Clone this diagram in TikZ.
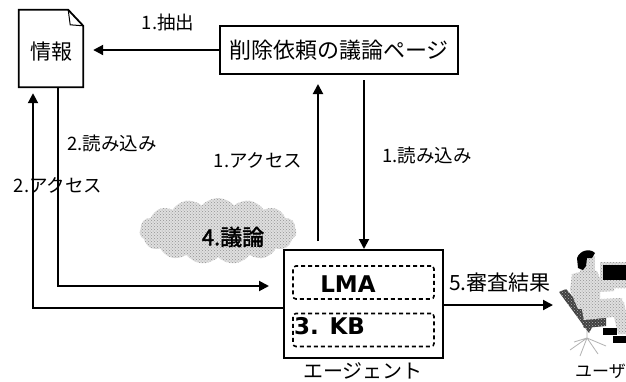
\documentclass[tikz,border=0pt]{standalone}
\usepackage{fontspec}
\newfontfamily\jp{Noto Sans CJK JP}
\newfontfamily\jpb{Noto Sans CJK JP}[FakeBold=2]
\newfontfamily\lat{DejaVu Sans}
\usetikzlibrary{arrows.meta,shapes.symbols,patterns,calc}

\tikzset{
  wire/.style={line width=2pt},
  flow/.style={wire,-{Triangle[length=10pt,width=10pt]}},
  lbl/.style={font=\jp\fontsize{18.5}{18.5}\selectfont,inner sep=0pt},
  big/.style={font=\jp\fontsize{20}{20}\selectfont,inner sep=0pt},
  inbox/.style={draw,dashed,dash pattern=on 4pt off 3pt,line width=1.6pt,
    rounded corners=3pt,minimum width=141pt,minimum height=33pt},
  bold/.style={font=\lat\bfseries\fontsize{23}{23}\selectfont,inner sep=0pt},
  grain/.style={fill=gray!25,postaction={pattern=crosshatch dots,pattern color=gray!85}},
  darkgrain/.style={fill=black!75,postaction={pattern=crosshatch dots,pattern color=gray!60}},
}

\begin{document}
\begin{tikzpicture}[x=1pt,y=-1pt]
\useasboundingbox[fill=white] (0,0) rectangle (626,381);

% discussion cloud
\node[cloud,cloud puffs=15,cloud puff arc=100,aspect=2.3,minimum width=157pt,minimum height=66pt,
      grain,draw=none] (cloud) at (218,231) {};
\node[font=\jpb\fontsize{22}{22}\selectfont,inner sep=0pt] (discuss) at (233,237) {4.議論};

% information document
\node[minimum width=64pt,minimum height=77pt,inner sep=0pt] (info) at (51,48.5) {};
\draw[line width=1.8pt] (info.north west) -- ($(info.north east)+(-15,0)$)
  -- ($(info.north east)+(0,16)$) -- (info.south east) -- (info.south west) -- cycle;
\draw[line width=1pt] ($(info.north east)+(-15,0)$) -- ($(info.north east)+(-13,15)$)
  -- ($(info.north east)+(0,16)$);
\node[big,font=\jp\fontsize{21}{21}\selectfont] (infot) at (51,52) {情報};

% discussion page
\node[draw,line width=2pt,minimum width=238pt,minimum height=48pt,inner sep=0pt,
      font=\jp\fontsize{22}{22}\selectfont] (page) at (339,50) {削除依頼の議論ページ};

% agent
\node[draw,line width=2pt,minimum width=159pt,minimum height=108pt] (agent) at (363.5,304) {};
\node[inbox] (lma) at (363.5,282.5) {};
\node[inbox] (kb) at (363.5,330) {};
\node[bold] (lmat) at (348,284) {LMA};
\node[bold,anchor=west] (kbt) at (294,326) {3. KB};
\node[big] (agentl) at (363,371) {エージェント};

% user at a computer
\coordinate (usr) at (553,305);
\begin{scope}
  % chair base and stem
  \draw[gray!60,line width=0.8pt] (587,325) -- (587,338)
    (587,338) -- (570,350) (587,338) -- (580,356) (587,338) -- (598,354)
    (587,338) -- (606,346) (587,338) -- (574,342);
  % seat
  \path[darkgrain] (580,318) -- (606,318) -- (606,326) -- (584,328) -- cycle;
  % chair back
  \path[darkgrain] (559,292) -- (566,289) -- (595,322) -- (589,333) -- cycle;
  % monitor
  \path[grain] (600,262) rectangle (626,288);
  \fill[black] (603,265) rectangle (626,280);
  % lower leg
  \path[grain] (610,300) -- (624,302) -- (630,334) -- (618,334) -- cycle;
  % thigh
  \path[grain] (580,300) -- (622,298) -- (624,316) -- (584,320) -- cycle;
  % torso and arm
  \path[grain] (572,274) -- (588,270) -- (597,271) -- (603,286) -- (614,286)
    -- (614,291) -- (600,292) -- (600,308) -- (578,309) -- (570,290) -- cycle;
  % head and hair
  \path[grain] (580,256) rectangle (595,272);
  \fill[black] (578,268) -- (577,258) .. controls (580,250) and (590,248) .. (595,253)
    -- (592,258) -- (587,258) -- (586,266) -- (583,270) -- cycle;
  % feet
  \fill[black] (603,328) rectangle (617,335);
  \fill[black] (613,336) rectangle (626,343);
\end{scope}
\node[big,font=\jp\fontsize{17}{17}\selectfont,anchor=east] (userl) at (626,371) {ユーザ};

% connectors
\draw[flow,shorten >=10pt] (page.west) -- (info.east |- page.west);
\draw[flow,shorten <=8pt,shorten >=9pt] ([xshift=-45.5pt]agent.north) -- ([xshift=-45.5pt]agent.north |- page.south);
\draw[flow,shorten <=5pt] ([xshift=0.5pt]agent.north |- page.south) -- ([xshift=0.5pt]agent.north);
\draw[flow,shorten >=14pt] ([xshift=7pt]info.south) |- ([yshift=18pt]agent.west);
\draw[flow,shorten >=6pt] ([yshift=-4pt]agent.west) -| ([xshift=-18pt]info.south);
\draw[flow] (agent.east |- usr) -- (usr);

% connector labels
\node[lbl] (l1) at (168,22) {1.抽出};
\node[lbl] (l2) at (112,143) {2.読み込み};
\node[lbl] (l3) at (258,160) {1.アクセス};
\node[lbl] (l4) at (427,155) {1.読み込み};
\node[lbl] (l5) at (58,185) {2.アクセス};
\node[lbl,font=\jp\fontsize{21}{21}\selectfont] (l6) at (500,283) {5.審査結果};
\end{tikzpicture}
\end{document}
